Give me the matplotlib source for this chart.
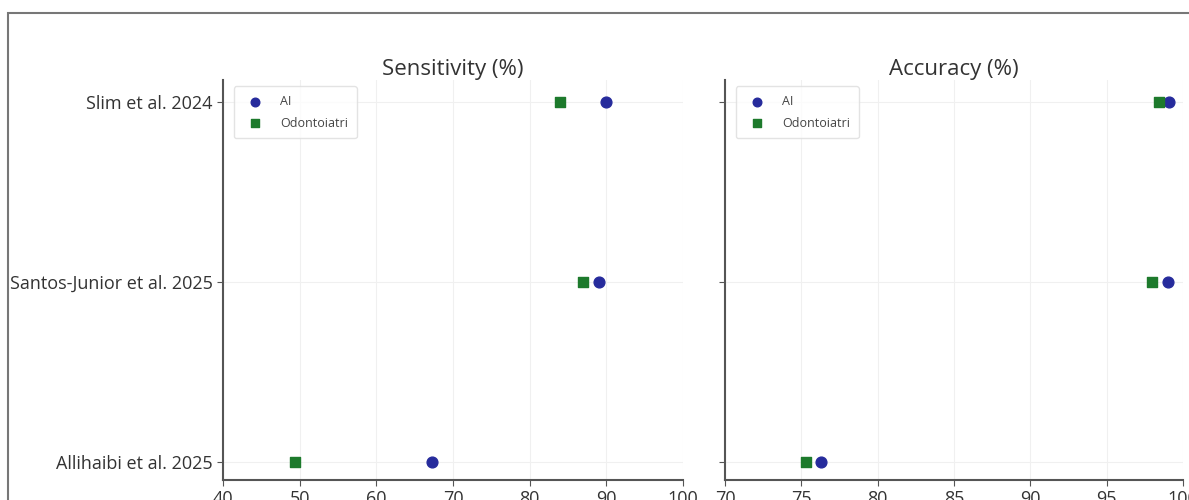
import matplotlib
matplotlib.use("Agg")
import matplotlib.pyplot as plt
from matplotlib.patches import Rectangle

plt.rcParams["font.family"] = ["Open Sans", "DejaVu Sans"]

studies = ["Allihaibi et al. 2025", "Santos-Junior et al. 2025", "Slim et al. 2024"]
sens_ai = [67.3, 89.0, 90.0]
sens_odonto = [49.4, 87.0, 84.0]
acc_ai = [76.3, 99.0, 99.1]
acc_odonto = [75.3, 98.0, 98.4]

AI_COLOR = "#262b9c"
OD_COLOR = "#1d7a2c"
SPINE = "#555555"

fig = plt.figure(figsize=(11.89, 5.0), dpi=100)
ax1 = fig.add_axes([223 / 1189, 20 / 500, 460 / 1189, 400 / 500])
ax2 = fig.add_axes([725 / 1189, 20 / 500, 458 / 1189, 400 / 500], sharey=ax1)

y = list(range(len(studies)))

panels = [
    (ax1, sens_ai, sens_odonto, "Sensitivity (%)", (40, 100), [40, 50, 60, 70, 80, 90, 100]),
    (ax2, acc_ai, acc_odonto, "Accuracy (%)", (70, 100), [70, 75, 80, 85, 90, 95, 100]),
]

for ax, ai, od, title, xlim, xticks in panels:
    ax.scatter(ai, y, marker="o", s=60, color=AI_COLOR, label="AI", zorder=3)
    ax.scatter(od, y, marker="s", s=50, color=OD_COLOR, label="Odontoiatri", zorder=3)
    ax.set_xlim(*xlim)
    ax.set_xticks(xticks)
    ax.set_title(title, fontsize=16, color="#333333", pad=3)
    ax.grid(True, color="#f0f0f0", linewidth=0.8)
    ax.set_axisbelow(True)
    for side in ("top", "right"):
        ax.spines[side].set_visible(False)
    for side in ("left", "bottom"):
        ax.spines[side].set_color(SPINE)
        ax.spines[side].set_linewidth(1.5)
    ax.tick_params(axis="both", colors=SPINE, labelcolor="#333333", labelsize=13, length=4)
    leg = ax.legend(loc="upper left", fontsize=9, frameon=True, borderpad=0.7,
                    handletextpad=1.0, labelspacing=0.7, markerscale=0.8,
                    bbox_to_anchor=(0.01, 1.0))
    leg.get_frame().set_edgecolor("#dddddd")
    for txt in leg.get_texts():
        txt.set_color("#444444")

ax1.set_yticks(y)
ax1.set_yticklabels(studies)
ax1.set_ylim(-0.1, 2.12)
plt.setp(ax2.get_yticklabels(), visible=False)

# grey frame of the original figure (top and left edges visible)
fig.patches.append(Rectangle((8 / 1189, -0.1), 1.2, (500 - 13) / 500 + 0.1,
                             transform=fig.transFigure, fill=False,
                             edgecolor="#777777", linewidth=1.5))

fig.savefig("out.png", dpi=100)
